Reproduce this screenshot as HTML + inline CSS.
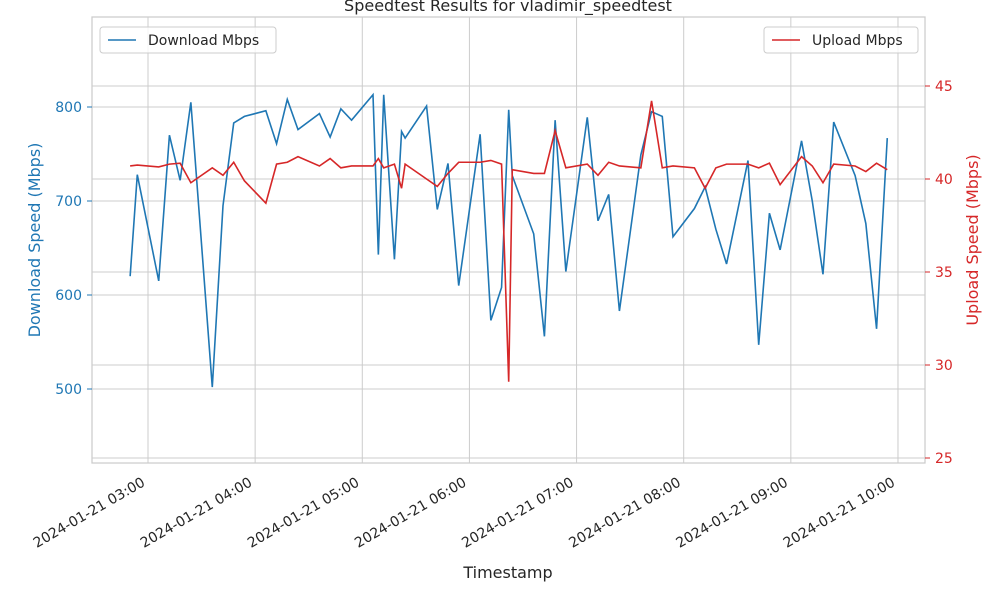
<!DOCTYPE html>
<html><head><meta charset="utf-8"><style>
body{margin:0;background:#fff;font-family:"Liberation Sans","DejaVu Sans",sans-serif}
svg text{font-family:"DejaVu Sans","Liberation Sans",sans-serif}
</style></head><body>
<svg id="c" width="1000" height="600" xmlns="http://www.w3.org/2000/svg"></svg>
<script>
const times=["02:50","02:54","03:06","03:12","03:18","03:24","03:36","03:42","03:48","03:54","04:06","04:12","04:18","04:24","04:36","04:42","04:48","04:54","05:06","05:09","05:12","05:18","05:22","05:24","05:36","05:42","05:48","05:54","06:06","06:12","06:18","06:22","06:24","06:36","06:42","06:48","06:54","07:06","07:12","07:18","07:24","07:36","07:42","07:48","07:54","08:06","08:12","08:18","08:24","08:36","08:42","08:48","08:54","09:06","09:12","09:18","09:24","09:36","09:42","09:48","09:54"];
const download=[620,728,615,770,722,805,502,695,783,790,796,761,808,776,793,768,798,786,813,643,813,638,774,767,801,691,740,610,771,573,608,797,727,665,556,786,625,789,679,707,583,749,795,790,662,692,715,670,633,743,547,687,648,764,700,622,784,727,676,564,767];
const upload=[40.7,40.75,40.65,40.8,40.85,39.8,40.6,40.2,40.9,39.9,38.7,40.8,40.9,41.2,40.7,41.1,40.6,40.7,40.7,41.1,40.6,40.8,39.5,40.8,40.0,39.6,40.3,40.9,40.9,41.0,40.8,29.1,40.5,40.3,40.3,42.6,40.6,40.8,40.2,40.9,40.7,40.6,44.2,40.6,40.7,40.6,39.5,40.6,40.8,40.8,40.6,40.85,39.7,41.2,40.7,39.8,40.8,40.7,40.4,40.85,40.5];
const xTicks=["03:00","04:00","05:00","06:00","07:00","08:00","09:00","10:00"];
const leftTicks=[500,600,700,800];
const rightTicks=[25,30,35,40,45];
const L=92,R=925,T=17,B=463;
const mins=s=>{const[h,m]=s.split(':').map(Number);return h*60+m;};
const X=t=>148+(mins(t)-180)*107.14/60;
const YL=v=>107+(800-v)*0.94;
const YR=v=>86+(45-v)*18.6;
const svg=document.getElementById('c');const NS="http://www.w3.org/2000/svg";
function el(tag,attrs,txt){const e=document.createElementNS(NS,tag);for(const k in attrs)e.setAttribute(k,attrs[k]);if(txt!==undefined)e.textContent=txt;svg.appendChild(e);return e;}
rightTicks.forEach(v=>{const g=el('line',{x1:L,x2:R,y1:YR(v),y2:YR(v),stroke:'#cccccc','stroke-width':1});

});
leftTicks.forEach(v=>{const g=el('line',{x1:L,x2:R,y1:YL(v),y2:YL(v),stroke:'#cccccc','stroke-width':1});

});
xTicks.forEach(t=>{const g=el('line',{x1:X(t),x2:X(t),y1:T,y2:B,stroke:'#cccccc','stroke-width':1});

});
const fr=el('rect',{x:L,y:T,width:R-L,height:B-T,fill:'none',stroke:'#cccccc','stroke-width':1.25});


const dl=el('polyline',{points:times.map((t,i)=>X(t)+','+YL(download[i])).join(' '),fill:'none',stroke:'#1f77b4','stroke-width':1.6});


const ul=el('polyline',{points:times.map((t,i)=>X(t)+','+YR(upload[i])).join(' '),fill:'none',stroke:'#d62728','stroke-width':1.6});


leftTicks.forEach(v=>{el('line',{x1:L-5,x2:L,y1:YL(v),y2:YL(v),stroke:'#1f77b4'});
const t=el('text',{x:L-10,y:YL(v)+5,'text-anchor':'end','font-size':14,fill:'#1f77b4'},v);

});
rightTicks.forEach(v=>{el('line',{x1:R,x2:R+5,y1:YR(v),y2:YR(v),stroke:'#d62728'});
const t=el('text',{x:R+10,y:YR(v)+5,'font-size':14,fill:'#d62728'},v);

});
xTicks.forEach(tk=>{const x=X(tk)-2,y=B+22;
const t=el('text',{x:x,y:y,'text-anchor':'end','font-size':14,fill:'#262626',transform:`rotate(-30 ${x} ${y})`},'2024-01-21 '+tk);

});
let t=el('text',{x:508,y:578,'text-anchor':'middle','font-size':16,fill:'#262626'},'Timestamp');

t=el('text',{x:40,y:240,'text-anchor':'middle','font-size':16,fill:'#1f77b4',transform:'rotate(-90 40 240)'},'Download Speed (Mbps)');

t=el('text',{x:978,y:240,'text-anchor':'middle','font-size':16,fill:'#d62728',transform:'rotate(-90 978 240)'},'Upload Speed (Mbps)');

t=el('text',{x:508,y:11,'text-anchor':'middle','font-size':16,fill:'#262626'},'Speedtest Results for vladimir_speedtest');

function legend(x,w,color,label,name){const r=el('rect',{x:x,y:27,width:w,height:26,rx:3,fill:'#fff','fill-opacity':0.8,stroke:'#cccccc'});

el('line',{x1:x+8,x2:x+36,y1:40,y2:40,stroke:color,'stroke-width':1.6});
const tx=el('text',{x:x+48,y:45,'font-size':14,fill:'#262626'},label);
}
legend(100,176,'#1f77b4','Download Mbps','download-legend');
legend(764,154,'#d62728','Upload Mbps','upload-legend');
</script>
</body></html>
